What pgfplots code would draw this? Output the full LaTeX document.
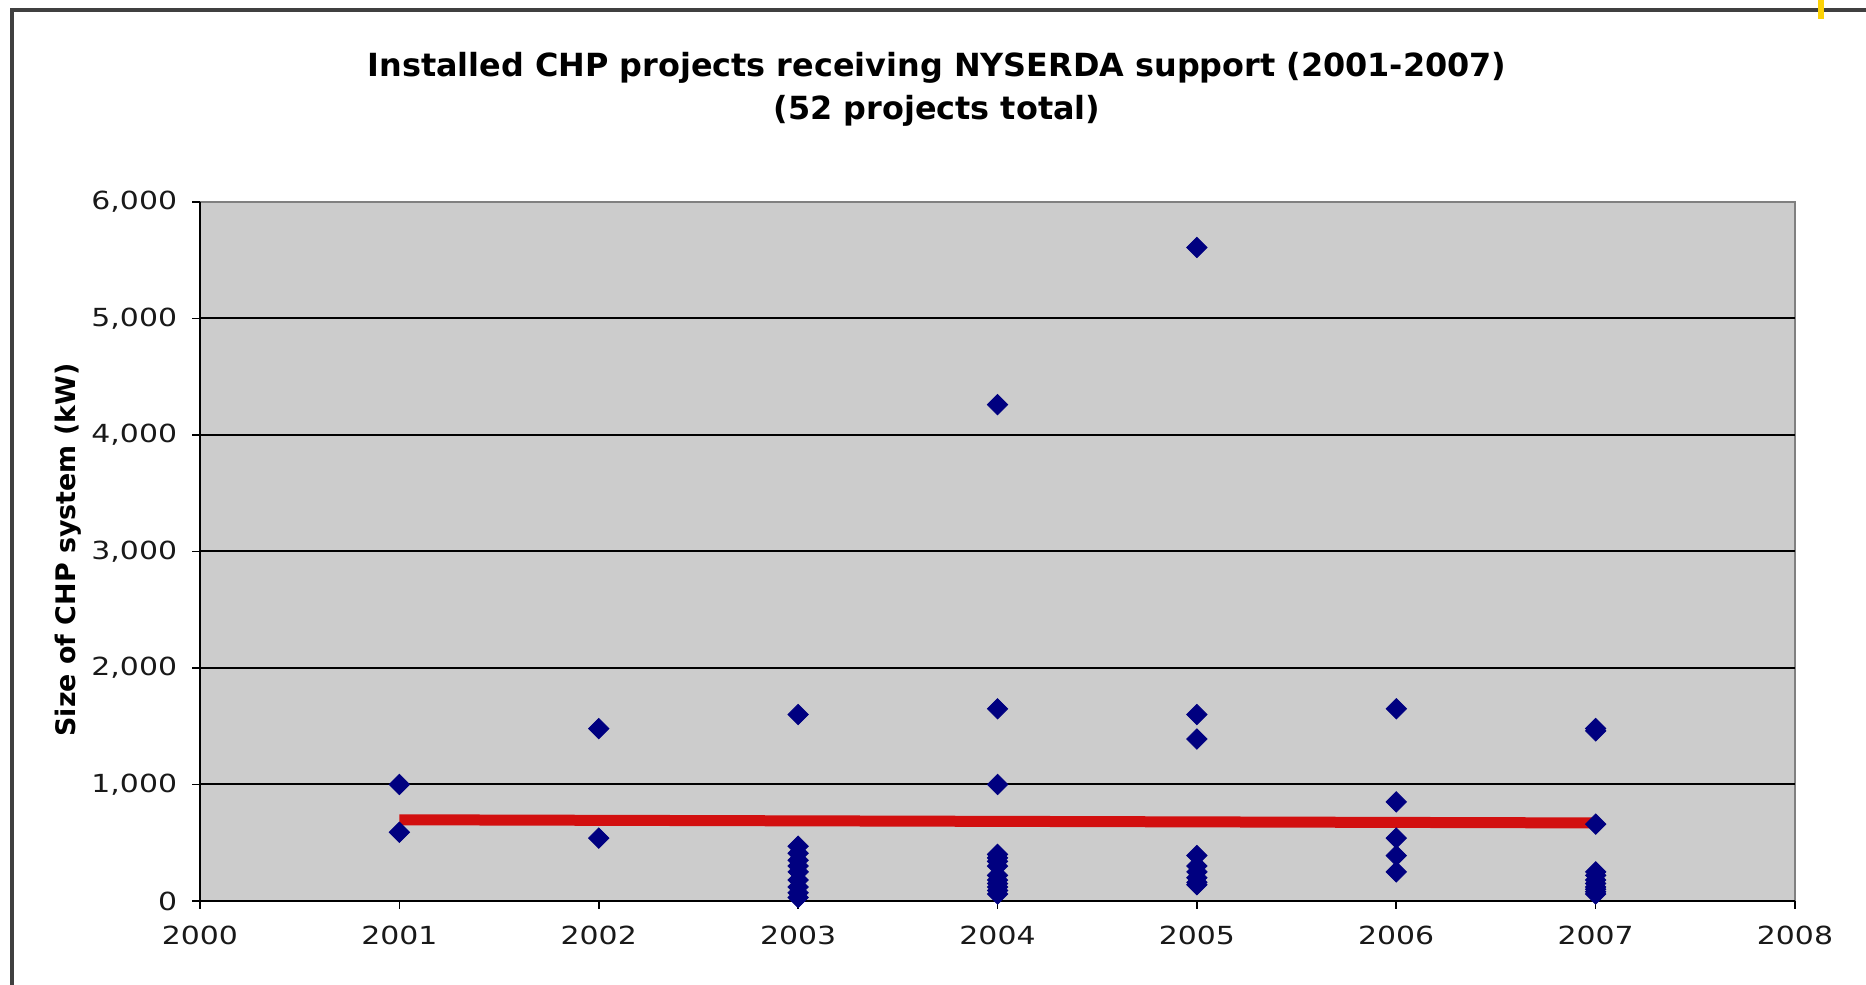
\documentclass[border=0pt]{standalone}
\usepackage{pgfplots}
\pgfplotsset{compat=1.18}
\usepackage{fontspec}
\setmainfont{DejaVu Sans}
\newfontfamily\tickfont[FakeStretch=1.2]{DejaVu Sans}
\newfontfamily\titlefont{DejaVu Sans}
\definecolor{plotgray}{RGB}{204,204,204}
\definecolor{navy}{RGB}{0,0,128}
\definecolor{trend}{RGB}{210,15,15}
\pgfplotstableread{
x y
2001 1000
2001 590
2002 1480
2002 540
2003 1600
2003 470
2003 410
2003 350
2003 300
2003 250
2003 180
2003 120
2003 70
2003 30
2004 4260
2004 1650
2004 1000
2004 400
2004 370
2004 340
2004 300
2004 220
2004 180
2004 150
2004 120
2004 90
2004 60
2005 5610
2005 1600
2005 1390
2005 390
2005 300
2005 250
2005 200
2005 160
2005 140
2006 1650
2006 850
2006 540
2006 390
2006 250
2007 1480
2007 1460
2007 660
2007 250
2007 220
2007 180
2007 150
2007 120
2007 100
2007 80
2007 60
}\projects
\begin{document}
\begin{tikzpicture}[x=1bp,y=1bp]
\useasboundingbox (0,0) rectangle (933,492.5);
\fill[white] (0,0) rectangle (933,492.5);
\draw[line width=2bp, black!75] (6,0) -- (6,487.5) -- (933,487.5);
\fill[yellow!70!orange] (909,483) rectangle (912,492.5);
\begin{axis}[
  at={(100bp,42bp)}, anchor=south west,
  scale only axis, width=797.5bp, height=349.5bp,
  xmin=2000, xmax=2008, ymin=0, ymax=6000,
  xtick={2000,2001,...,2008}, ytick={0,1000,...,6000},
  axis x line*=bottom, axis y line*=left,
  axis line style={-, black, line width=1bp},
  axis background/.style={fill=plotgray, draw=gray, line width=0.6bp},
  tick align=outside, major tick length=4bp,
  tick style={black, line width=0.8bp},
  extra y ticks={1000,2000,3000,4000,5000},
  extra y tick labels={},
  extra y tick style={grid=major, major tick length=0pt},
  major grid style={black, line width=1bp},
  /pgf/number format/assume math mode=true,
  tick label style={font=\tickfont\fontsize{12.5}{14}\selectfont, text=black!90},
  x tick label style={/pgf/number format/1000 sep={}, yshift=-5bp},
  y tick label style={/pgf/number format/1000 sep={,}, xshift=-4bp},
  clip=false,
]
\addplot[trend, line width=5.5bp, line cap=butt] coordinates {(2001,697) (2007,670)};
\addplot[only marks, mark=square*, mark size=3.6bp, mark options={rotate=45, fill=navy, draw=navy}] table[x=x, y=y] {\projects};
\end{axis}
\node[font=\titlefont\bfseries\fontsize{16}{19}\selectfont] at (468.5,458.5) {Installed CHP projects receiving NYSERDA support (2001-2007)};
\node[font=\titlefont\bfseries\fontsize{16}{19}\selectfont] at (468.5,437) {(52 projects total)};
\node[rotate=90, font=\bfseries\fontsize{13.5}{16}\selectfont] at (34,217.5) {Size of CHP system (kW)};
\end{tikzpicture}
\end{document}
